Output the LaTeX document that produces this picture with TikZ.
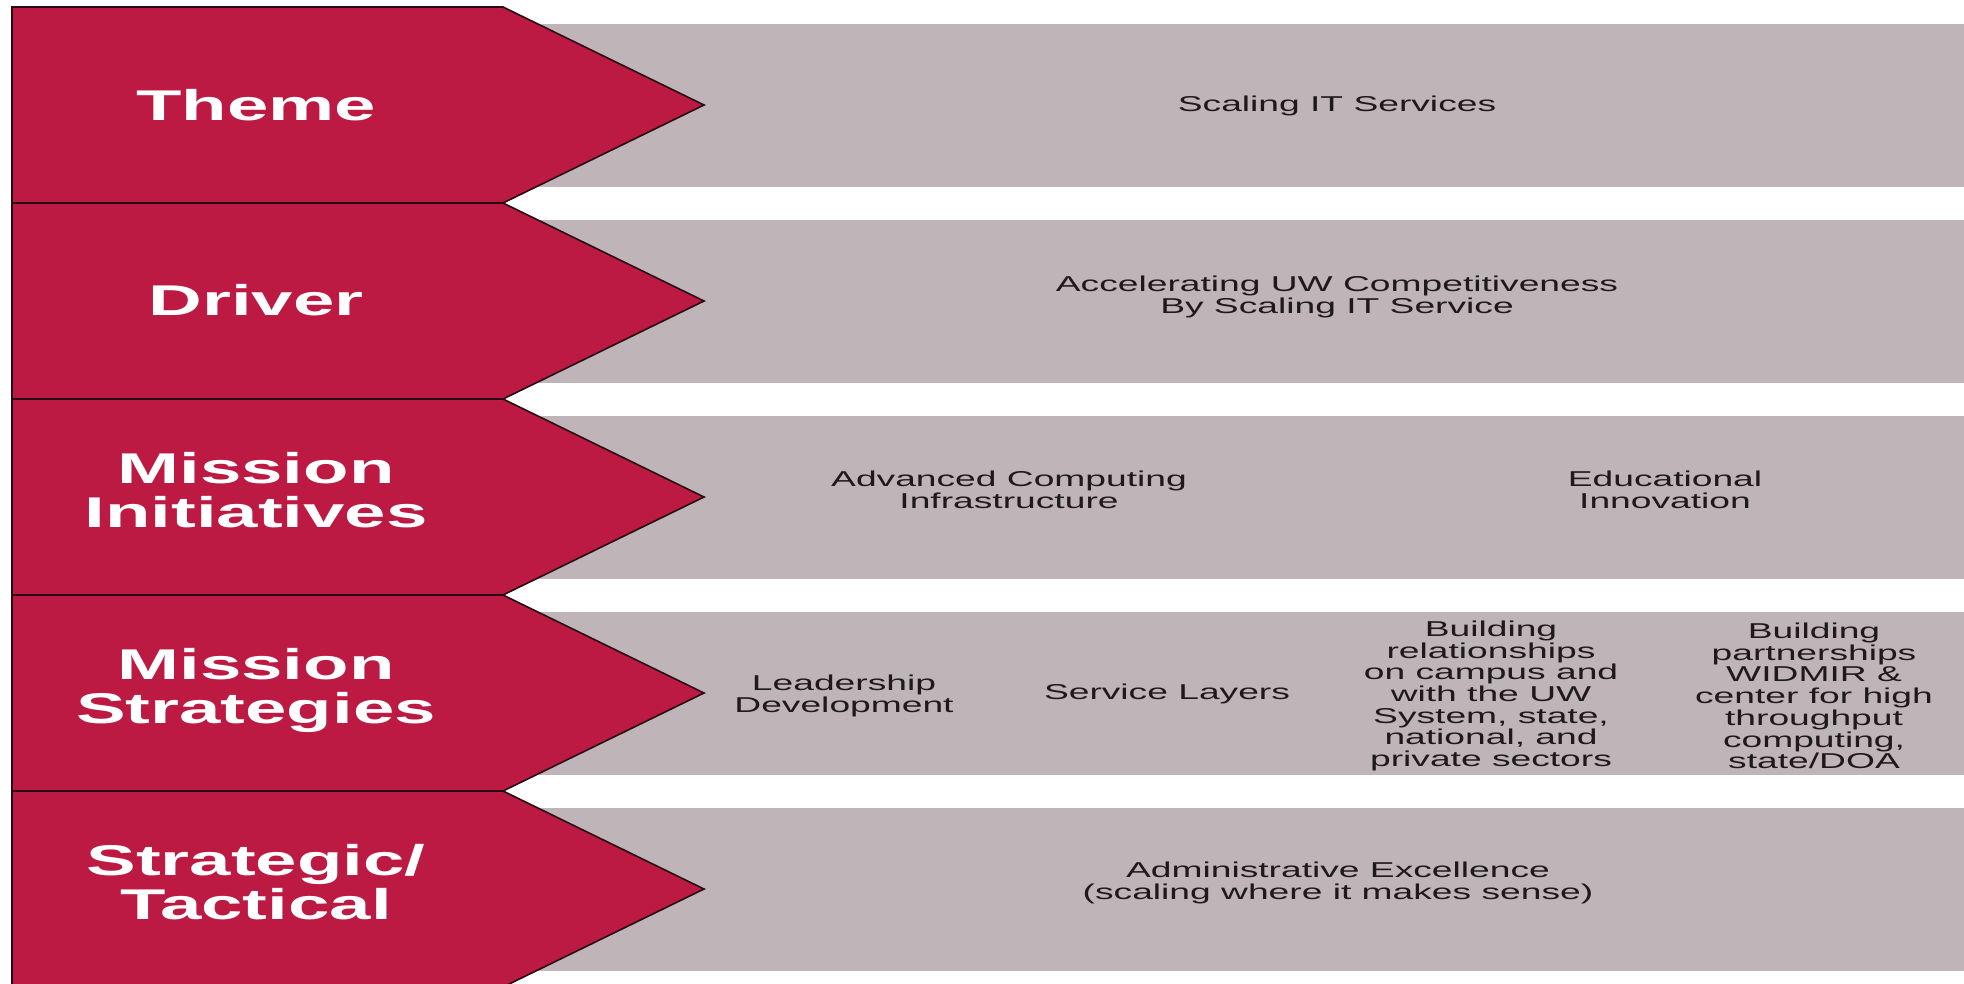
\documentclass[tikz,border=0pt]{standalone}
\usepackage{fontspec}
\setmainfont{Liberation Sans}
\definecolor{crim}{HTML}{BC1A42}
\definecolor{band}{HTML}{BFB4B8}
\definecolor{ink}{HTML}{1E1A1B}
\definecolor{edge}{HTML}{2A0A12}
\begin{document}
\begin{tikzpicture}[x=1pt,y=-1pt,
  chev/.style={fill=crim, draw=edge, line width=1.6pt, line join=miter},
  bandbox/.style={fill=band, draw=none},
  lab/.style={text=white, font=\fontsize{43}{44}\selectfont\bfseries, align=center, xscale=1.73, inner sep=0pt},
  txt/.style={text=ink, font=\fontsize{21.5}{21.7}\selectfont, align=center, xscale=1.73, inner sep=0pt}]
\useasboundingbox (0,0) rectangle (1964,983);
\fill[white] (0,0) rectangle (1964,983);
% grey bands
\foreach \i in {0,...,4} {
  \pgfmathsetmacro\t{7+196*\i}
  \path[bandbox] (530,\t+17) rectangle (1964,\t+180);
}
% red chevrons
\foreach \i in {0,...,4} {
  \pgfmathsetmacro\t{7+196*\i}
  \draw[chev] (12,\t) -- (503,\t) -- (704,\t+98) -- (503,\t+196) -- (12,\t+196) -- cycle;
}
% labels
\node[lab] (theme) at (256,105) {Theme};
\node[lab] (driver) at (256,300) {Driver};
\node[lab] (mini) at (256,490) {Mission\\Initiatives};
\node[lab] (mstr) at (256,690) {Mission\\Strategies};
\node[lab] (strat) at (256,882) {Strategic/\\Tactical};
% content texts
\node[txt] (t1) at (1337,106) {Scaling IT Services};
\node[txt] (t2) at (1337,297) {Accelerating UW Competitiveness\\By Scaling IT Service};
\node[txt] (t3a) at (1009,490) {Advanced Computing\\Infrastructure};
\node[txt] (t3b) at (1665,490) {Educational\\Innovation};
\node[txt] (t4a) at (844,696) {Leadership\\Development};
\node[txt] (t4b) at (1167,694) {Service Layers};
\node[txt] (t4c) at (1491,696) {Building\\relationships\\on campus and\\with the UW\\System, state,\\national, and\\private sectors};
\node[txt] (t4d) at (1814,696) {Building\\partnerships\\WIDMIR \&\\center for high\\throughput\\computing,\\state/DOA};
\node[txt] (t5) at (1338,883) {Administrative Excellence\\(scaling where it makes sense)};
\end{tikzpicture}
\end{document}
